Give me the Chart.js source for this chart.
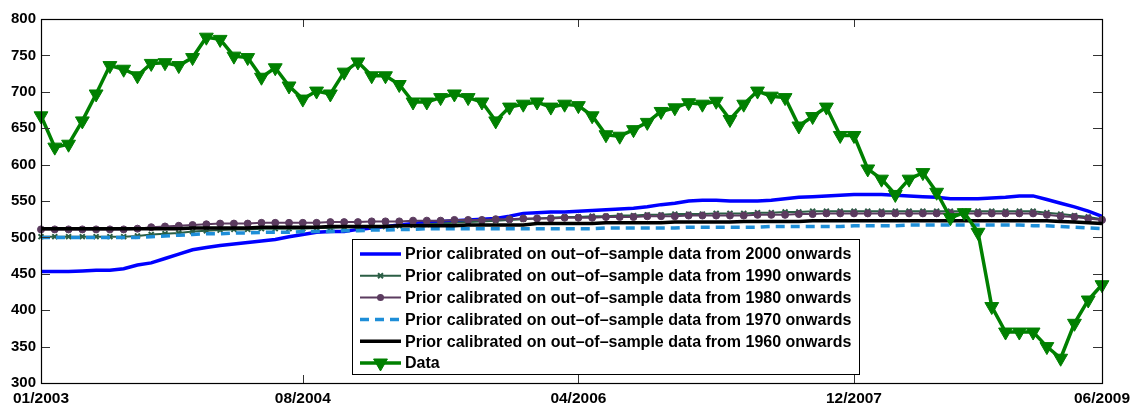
<!DOCTYPE html>
<html>
<head>
<meta charset="utf-8">
<script src="https://cdn.jsdelivr.net/npm/chart.js@4.4.1/dist/chart.umd.min.js"></script>
<style>
html,body{margin:0;padding:0;background:#fff;}
#wrap{width:1141px;height:405px;position:relative;}
</style>
</head>
<body>
<div id="wrap"><canvas id="c" width="1141" height="405"></canvas></div>
<script>
// ---- data (monthly, 01/2003 .. 06/2009) ----
const startYear = 2003, nMonths = 78;
const months = [];
for (let i = 0; i < nMonths; i++) {
  const m = i % 12 + 1, y = startYear + Math.floor(i / 12);
  months.push((m < 10 ? '0' : '') + m + '/' + y);
}
const tickLabels = ['01/2003', '08/2004', '04/2006', '12/2007', '06/2009'];
const yTicks = [300, 350, 400, 450, 500, 550, 600, 650, 700, 750, 800];

const seriesNames = [
  'Prior calibrated on out\u2013of\u2013sample data from 2000 onwards',
  'Prior calibrated on out\u2013of\u2013sample data from 1990 onwards',
  'Prior calibrated on out\u2013of\u2013sample data from 1980 onwards',
  'Prior calibrated on out\u2013of\u2013sample data from 1970 onwards',
  'Prior calibrated on out\u2013of\u2013sample data from 1960 onwards',
  'Data'
];

const prior2000 = [453,453,453,454,455,455,457,462,465,471,477,483,486,489,491,493,495,497,501,504,
  507,508,508,511,513,515,517,519,521,522,523,524,525,526,529,533,534,535,535,536,
  537,538,539,540,542,545,547,550,551,551,550,550,550,551,553,555,556,557,558,559,
  559,559,558,557,556,555,553,553,553,554,555,557,557,552,547,542,536,529];
const prior1990 = [501,501,501,501,501,501,501,502,504,505,506,508,509,510,511,511,512,512,512,512,
  513,513,514,514,515,515,516,517,518,519,520,521,522,523,524,525,526,527,528,528,
  529,529,530,530,531,531,532,532,532,533,533,533,534,534,535,535,536,536,536,536,
  536,536,536,536,536,536,536,536,536,536,536,536,536,534,532,530,528,525];
const prior1980 = [511,511,511,511,511,511,511,512,514,515,516,517,518,519,519,519,520,520,520,520,
  520,521,521,521,522,522,522,523,523,523,524,524,524,525,525,526,526,526,527,527,
  527,528,528,528,529,529,529,530,530,530,530,530,531,531,531,532,532,533,533,533,
  533,533,533,533,533,533,533,533,533,533,533,533,533,531,529,528,526,524];
const prior1970 = [500,500,500,500,500,500,500,500,501,502,503,504,505,505,506,506,507,507,507,508,
  508,508,509,509,510,510,511,511,512,512,512,512,512,512,512,512,512,512,512,512,
  512,513,513,513,513,513,513,514,514,514,514,514,514,515,515,515,515,515,515,516,
  516,516,516,517,517,517,517,517,517,517,517,517,516,516,515,514,513,512];
const prior1960 = [512,512,512,512,512,512,512,512,512,512,512,513,513,513,513,513,514,514,514,514,
  514,515,515,515,515,515,516,516,516,516,516,517,517,517,517,517,519,519,519,519,
  519,520,520,520,520,520,521,521,521,521,521,522,522,522,522,522,523,523,523,523,
  523,523,523,523,523,523,523,523,523,523,523,523,523,523,522,521,520,519];
const dataSeries = [667,624,628,660,697,736,731,722,739,740,736,747,775,772,749,747,720,733,708,690,
  701,697,727,741,722,722,710,686,686,692,697,692,686,660,679,683,686,679,683,681,
  667,641,639,648,658,673,678,685,683,687,662,683,701,694,692,653,666,679,640,640,
  594,580,559,580,589,562,527,534,507,405,370,370,370,350,334,382,414,435];

// ---- styles ----
const C_BLUE = '#0000ff', C_1990 = '#2b5e45', C_1980 = '#5b3b5f', C_1970 = '#1e8ed8', C_1960 = '#000000', C_DATA = '#008000';

const styles = [
  {color: C_BLUE, width: 3.5, dash: [], point: false, radius: 0},
  {color: C_1990, width: 2, dash: [], point: 'crossRot', radius: 3.5},
  {color: C_1980, width: 2, dash: [], point: 'circle', radius: 3.5},
  {color: C_1970, width: 3.5, dash: [9, 6], point: false, radius: 0},
  {color: C_1960, width: 3.5, dash: [], point: false, radius: 0},
  {color: C_DATA, width: 3.5, dash: [], point: 'triangle', radius: 8}
];
const seriesData = [prior2000, prior1990, prior1980, prior1970, prior1960, dataSeries];

const datasets = seriesData.map((d, i) => {
  const s = styles[i];
  return {
    label: seriesNames[i],
    data: d,
    borderColor: s.color,
    backgroundColor: s.color,
    borderWidth: s.width,
    borderDash: s.dash,
    tension: 0,
    pointStyle: s.point || 'circle',
    pointRadius: s.radius,
    pointRotation: s.point === 'triangle' ? 180 : 0,
    pointBorderWidth: s.point === 'crossRot' ? 2 : 1,
    pointBorderColor: s.color,
    pointBackgroundColor: s.color,
    clip: false,
    order: seriesData.length - i
  };
});

function drawMarker(ctx, style, x, y, r, color) {
  ctx.save();
  ctx.fillStyle = color; ctx.strokeStyle = color; ctx.setLineDash([]);
  if (style === 'circle') {
    ctx.beginPath(); ctx.arc(x, y, r, 0, Math.PI * 2); ctx.fill();
  } else if (style === 'triangle') {
    ctx.beginPath();
    for (let k = 0; k < 3; k++) {
      const a = Math.PI + k * 2 * Math.PI / 3;
      const px = x + Math.sin(a) * r, py = y - Math.cos(a) * r;
      if (k === 0) ctx.moveTo(px, py); else ctx.lineTo(px, py);
    }
    ctx.closePath(); ctx.fill(); ctx.lineWidth = 1; ctx.stroke();
  } else if (style === 'crossRot') {
    ctx.lineWidth = 2; ctx.beginPath();
    const d = r * 0.7071;
    ctx.moveTo(x - d, y - d); ctx.lineTo(x + d, y + d);
    ctx.moveTo(x - d, y + d); ctx.lineTo(x + d, y - d);
    ctx.stroke();
  }
  ctx.restore();
}

const matlabAxes = {
  id: 'matlabAxes',
  afterDraw(chart) {
    const ctx = chart.ctx, a = chart.chartArea;
    const xs = chart.scales.x, ys = chart.scales.y;
    ctx.save();
    // inward ticks
    ctx.strokeStyle = '#333'; ctx.lineWidth = 1;
    ctx.beginPath();
    yTicks.forEach(v => {
      const py = Math.round(ys.getPixelForValue(v)) + 0.5;
      ctx.moveTo(a.left, py); ctx.lineTo(a.left + 9, py);
      ctx.moveTo(a.right, py); ctx.lineTo(a.right - 9, py);
    });
    tickLabels.forEach(l => {
      const px = Math.round(xs.getPixelForValue(months.indexOf(l))) + 0.5;
      ctx.moveTo(px, a.bottom); ctx.lineTo(px, a.bottom - 8);
      ctx.moveTo(px, a.top); ctx.lineTo(px, a.top + 8);
    });
    ctx.stroke();
    // box
    ctx.strokeStyle = '#000'; ctx.lineWidth = 1.2;
    ctx.strokeRect(Math.round(a.left) + 0.5, Math.round(a.top) + 0.5, Math.round(a.right - a.left), Math.round(a.bottom - a.top));
    // legend
    const lx = 352, ly = 239, lw = 507, lh = 135;
    ctx.fillStyle = '#fff';
    ctx.fillRect(lx, ly, lw, lh);
    ctx.strokeStyle = '#000'; ctx.lineWidth = 1;
    ctx.strokeRect(lx + 0.5, ly + 0.5, lw, lh);
    ctx.font = 'bold 16px "Liberation Sans", Arial, sans-serif';
    ctx.textBaseline = 'middle'; ctx.textAlign = 'left';
    seriesNames.forEach((name, i) => {
      const s = styles[i];
      const cy = 254 + i * 21.8;
      ctx.save();
      ctx.strokeStyle = s.color; ctx.lineWidth = s.width; ctx.setLineDash(s.dash);
      ctx.beginPath(); ctx.moveTo(360, cy); ctx.lineTo(401, cy); ctx.stroke();
      ctx.restore();
      if (s.point) drawMarker(ctx, s.point, 380.5, cy, s.radius, s.color);
      ctx.fillStyle = '#000';
      ctx.fillText(name, 405, cy + 1);
    });
    ctx.restore();
  }
};

new Chart(document.getElementById('c'), {
  type: 'line',
  data: { labels: months, datasets: datasets },
  options: {
    responsive: false,
    devicePixelRatio: 1,
    animation: false,
    layout: { padding: { top: 19, right: 39, left: 0, bottom: 0 } },
    plugins: { legend: { display: false }, tooltip: { enabled: false } },
    scales: {
      x: {
        type: 'category',
        grid: { display: false, drawTicks: false },
        border: { display: false },
        ticks: {
          autoSkip: false, maxRotation: 0, minRotation: 0, padding: 6,
          color: '#000',
          font: { family: '"Liberation Sans", Arial, sans-serif', size: 15.5, weight: 'bold' },
          callback: function(v, idx) { const l = months[idx]; return tickLabels.includes(l) ? l : ''; }
        },
        afterFit: s => { s.height = 22; }
      },
      y: {
        min: 300, max: 800,
        grid: { display: false, drawTicks: false },
        border: { display: false },
        afterBuildTicks: s => { s.ticks = yTicks.map(v => ({ value: v })); },
        ticks: {
          padding: 5, color: '#000',
          font: { family: '"Liberation Sans", Arial, sans-serif', size: 15, weight: 'bold' }
        },
        afterFit: s => { s.width = 41; }
      }
    }
  },
  plugins: [matlabAxes]
});
</script>
</body>
</html>
